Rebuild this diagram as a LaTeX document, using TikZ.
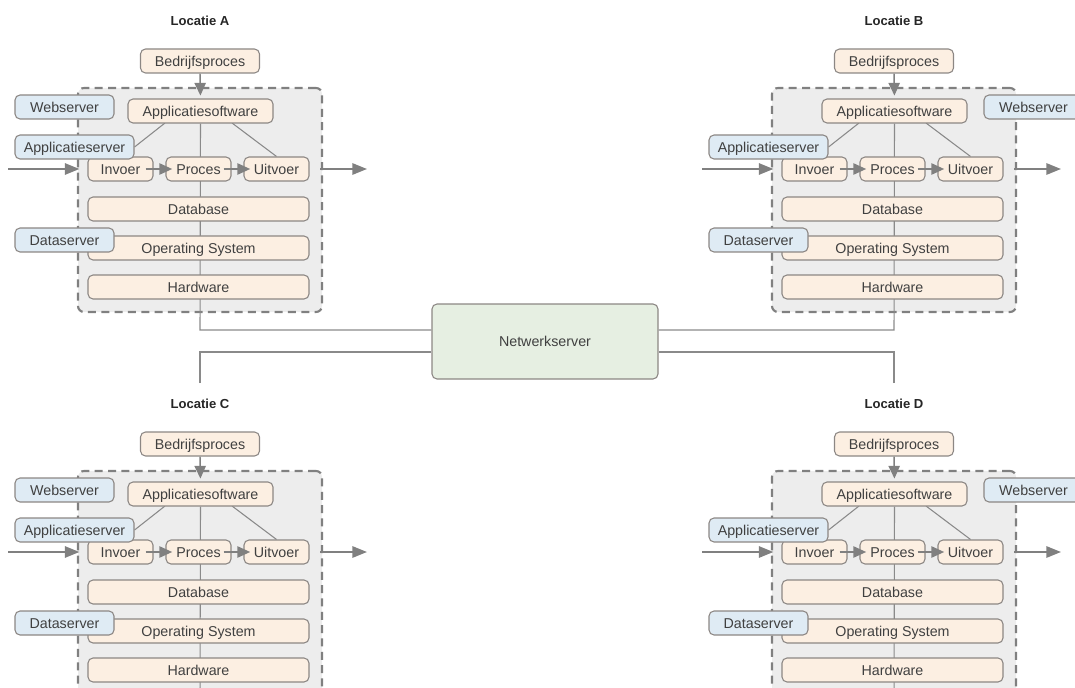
\documentclass[tikz,border=0pt]{standalone}
\usepackage{fontspec}
\setmainfont{Liberation Sans}
\usetikzlibrary{arrows.meta,calc}
\pgfdeclarelayer{bg}
\pgfdeclarelayer{lines}
\pgfsetlayers{bg,lines,main}
\definecolor{ofill}{HTML}{FCEFE2}
\definecolor{bfill}{HTML}{DFEBF4}
\definecolor{gfill}{HTML}{E6EFE2}
\definecolor{cfill}{HTML}{EDEDED}
\definecolor{boxline}{HTML}{8C8784}
\definecolor{lin}{HTML}{8A8A8A}
\definecolor{arr}{HTML}{808080}
\definecolor{txt}{HTML}{404040}
\tikzset{
  box/.style={draw=boxline, line width=0.8pt, rounded corners=3.75pt,
    minimum height=24*0.75pt, inner sep=0pt, text=txt,
    text height=7.7pt, text depth=0pt,
    font=\fontsize{10.7}{12}\selectfont},
  obox/.style={box, fill=ofill},
  bluebox/.style={box, fill=bfill},
  netbox/.style={box, fill=gfill, minimum width=226*0.75pt, minimum height=75*0.75pt},
  container/.style={draw=arr, fill=cfill, line width=1.6pt, dash pattern=on 6pt off 4pt,
    rounded corners=4.5pt, minimum width=244*0.75pt, minimum height=224*0.75pt, inner sep=0pt},
  loctitle/.style={font=\fontsize{9.8}{11}\selectfont\bfseries, text=black!85},
  conn/.style={draw=lin, line width=0.8pt},
  bigarrow/.style={draw=arr, line width=1.5pt, -{Triangle[length=11pt,width=8.5pt]}},
  midarrow/.style={draw=arr, line width=1.1pt, -{Triangle[length=9.5pt,width=8.5pt]}},
  smallarrow/.style={draw=arr, line width=0.9pt, -{Triangle[length=9.5pt,width=8.5pt]}},
}
% #1 prefix, #2 dx, #3 dy, #4 title, #5 webserver x
\newcommand\locblock[5]{%
\begin{scope}[shift={(#2,#3)}]
  \node[loctitle] (#1T) at (200,21) {#4};
  \node[obox, minimum width=119*0.75pt] (#1BP) at (200,61) {Bedrijfsproces};
  \begin{pgfonlayer}{bg}
    \node[container] (#1C) at (200,200) {};
  \end{pgfonlayer}
  \node[obox, minimum width=145*0.75pt] (#1AS) at (200.5,111) {Applicatiesoftware};
  \node[bluebox, minimum width=99*0.75pt] (#1WS) at (#5,107) {Webserver};
  \node[obox, minimum width=65*0.75pt] (#1In) at (120.5,169) {Invoer};
  \node[obox, minimum width=65*0.75pt] (#1Pr) at (198.5,169) {Proces};
  \node[obox, minimum width=65*0.75pt] (#1Ui) at (276.5,169) {Uitvoer};
  \node[bluebox, minimum width=119*0.75pt] (#1AP) at (74.5,147) {Applicatieserver};
  \node[obox, minimum width=221*0.75pt] (#1DB) at (198.5,209) {Database};
  \node[obox, minimum width=221*0.75pt] (#1OS) at (198.5,248) {Operating System};
  \node[bluebox, minimum width=99*0.75pt] (#1DS) at (64.5,240) {Dataserver};
  \node[obox, minimum width=221*0.75pt] (#1HW) at (198.5,287) {Hardware};
  \coordinate (#1InStart) at (8,169);
  \coordinate (#1OutEnd) at (367,169);
  \coordinate (#1SWa) at (165,123);
  \coordinate (#1SWb) at (232,123);
  \begin{pgfonlayer}{lines}
    \draw[conn] (#1SWa) -- (#1AP.east);
    \draw[conn] (#1SWb) -- (#1Ui.north);
  \end{pgfonlayer}
  \draw[midarrow, shorten >=2.2pt] (#1BP.south) -- (#1AS.north);
  \draw[bigarrow, shorten >=6pt] (#1InStart) -- (#1In.west);
  \draw[bigarrow, shorten <=8pt] (#1Ui.east) -- (#1OutEnd);
  \draw[smallarrow, shorten <=-6pt, shorten >=-5pt] (#1In.east) -- (#1Pr.west);
  \draw[smallarrow, shorten <=-6pt, shorten >=-5pt] (#1Pr.east) -- (#1Ui.west);
\end{scope}}

\begin{document}
\begin{tikzpicture}[x=0.75pt,y=-0.75pt]
\useasboundingbox (0,0) rectangle (1075,688);
\locblock{a}{0}{0}{Locatie A}{64.5}
\locblock{b}{694}{0}{Locatie B}{339.5}
\locblock{c}{0}{383}{Locatie C}{64.5}
\locblock{d}{694}{383}{Locatie D}{339.5}

\node[netbox] (net) at (545,341.5) {Netwerkserver};

\coordinate (aJ) at (200,330);
\coordinate (bJ) at (894,330);
\coordinate (cJ) at (200,352);
\coordinate (dJ) at (894,352);
\coordinate (cTop) at (200,383);
\coordinate (dTop) at (894,383);
\coordinate (cEnd) at (200,700);
\coordinate (dEnd) at (894,700);

\begin{pgfonlayer}{lines}
  \draw[conn] (aAS.south) -- (aJ) -- (aJ -| net.west);
  \draw[conn] (bAS.south) -- (bJ) -- (bJ -| net.east);
  \draw[conn] (cTop) -- (cJ) -- (cJ -| net.west);
  \draw[conn] (dTop) -- (dJ) -- (dJ -| net.east);
  \draw[conn] (cAS.south) -- (cEnd);
  \draw[conn] (dAS.south) -- (dEnd);
\end{pgfonlayer}
\end{tikzpicture}
\end{document}
